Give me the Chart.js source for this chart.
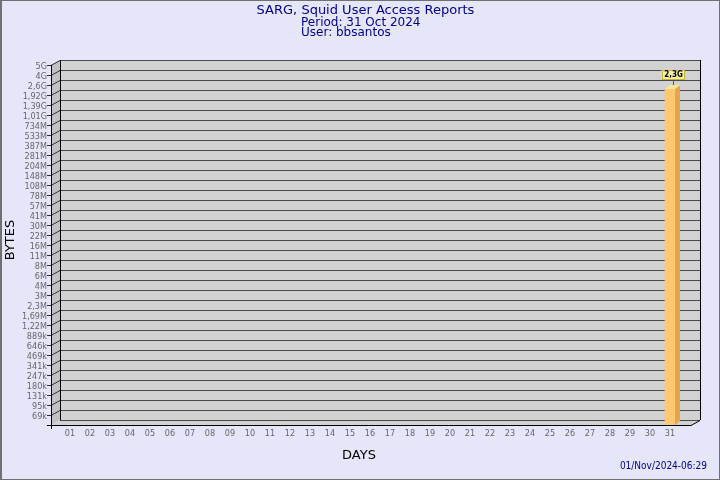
<!DOCTYPE html>
<html>
<head>
<meta charset="utf-8">
<script src="https://cdn.jsdelivr.net/npm/chart.js@4/dist/chart.umd.min.js"></script>
<style>
  html, body { margin: 0; padding: 0; background: #e6e6fa; }
  canvas { display: block; }
</style>
</head>
<body>
<canvas id="myChart" width="720" height="480"></canvas>
<script>
'use strict';

// y axis labels (bottom to top) and the byte values they stand for
var yLabels = ['69k', '95k', '131k', '180k', '247k', '341k', '469k', '646k', '889k',
  '1,22M', '1,69M', '2,3M', '3M', '4M', '6M', '8M', '11M', '16M', '22M', '30M', '41M',
  '57M', '78M', '108M', '148M', '204M', '281M', '387M', '533M', '734M',
  '1,01G', '1,39G', '1,92G', '2,6G', '4G', '5G'];
var yBytes = [69e3, 95e3, 131e3, 180e3, 247e3, 341e3, 469e3, 646e3, 889e3,
  1.22e6, 1.69e6, 2.3e6, 3e6, 4e6, 6e6, 8e6, 11e6, 16e6, 22e6, 30e6, 41e6,
  57e6, 78e6, 108e6, 148e6, 204e6, 281e6, 387e6, 533e6, 734e6,
  1.01e9, 1.39e9, 1.92e9, 2.6e9, 4e9, 5e9];

var days = ['01', '02', '03', '04', '05', '06', '07', '08', '09', '10', '11', '12', '13', '14', '15',
  '16', '17', '18', '19', '20', '21', '22', '23', '24', '25', '26', '27', '28', '29', '30', '31'];
var dayBytes = [null, null, null, null, null, null, null, null, null, null, null, null, null, null, null,
  null, null, null, null, null, null, null, null, null, null, null, null, null, null, null, 2.3e9];

var titleLine = 'SARG, Squid User Access Reports';
var periodLine = 'Period: 31 Oct 2024';
var userLine = 'User: bbsantos';
var stamp = '01/Nov/2024-06:29';

var FONT = '"DejaVu Sans", sans-serif';
var COND = '"DejaVu Sans Condensed", "DejaVu Sans", sans-serif';

// sarg y axis is a stepped log scale: map bytes onto label positions
function bytesToAxis(v) {
  if (v == null) return null;
  if (v <= yBytes[0]) return v / yBytes[0];
  for (var i = 0; i < yBytes.length - 1; i++) {
    if (v <= yBytes[i + 1]) {
      return i + 1 + Math.log(v / yBytes[i]) / Math.log(yBytes[i + 1] / yBytes[i]);
    }
  }
  return yBytes.length;
}

function fmtBytes(v) {
  if (v >= 1e9) return (v / 1e9).toFixed(1).replace('.', ',') + 'G';
  if (v >= 1e6) return (v / 1e6).toFixed(1).replace('.', ',') + 'M';
  return Math.round(v / 1e3) + 'k';
}

var DX = 9, DY = 5;

var sargFrame = {
  id: 'sargFrame',
  beforeDraw: function (chart) {
    var ctx = chart.ctx;
    var ys = chart.scales.y;
    var a = chart.chartArea;
    var L = a.left, R = a.right;
    var T = ys.getPixelForValue(ys.max), B = ys.getPixelForValue(0);
    ctx.save();
    ctx.fillStyle = '#e6e6fa';
    ctx.fillRect(0, 0, chart.width, chart.height);
    ctx.fillStyle = '#707070';
    ctx.fillRect(0, 0, 2, chart.height);
    ctx.fillRect(0, 0, chart.width, 1);
    ctx.fillRect(chart.width - 1, 0, 1, chart.height);
    ctx.fillRect(0, chart.height - 1, chart.width, 1);

    // titles
    ctx.fillStyle = '#00008b';
    ctx.textBaseline = 'middle';
    ctx.font = '13px ' + FONT;
    ctx.textAlign = 'center';
    ctx.fillText(titleLine, 365.5, 11);
    ctx.font = '12px ' + FONT;
    ctx.textAlign = 'left';
    ctx.fillText(periodLine, 301, 22.5);
    ctx.fillText(userLine, 301, 33);
    ctx.font = '10px ' + COND;
    ctx.textAlign = 'right';
    ctx.fillText(stamp, 707, 466.5);

    ctx.fillStyle = '#000';
    ctx.font = '13px ' + FONT;
    ctx.textAlign = 'center';
    ctx.fillText('DAYS', 359, 456);
    ctx.save();
    ctx.translate(11, 240);
    ctx.rotate(-Math.PI / 2);
    ctx.fillText('BYTES', 0, 0);
    ctx.restore();

    // back wall, side wall and floor
    ctx.fillStyle = '#d2d2d2';
    ctx.fillRect(L + DX, T - DY, R - L, B - T);
    ctx.beginPath();
    ctx.moveTo(L, B); ctx.lineTo(L + DX, B - DY); ctx.lineTo(R + DX, B - DY); ctx.lineTo(R, B);
    ctx.closePath(); ctx.fill();
    ctx.fillStyle = '#c2c2c2';
    ctx.beginPath();
    ctx.moveTo(L, T); ctx.lineTo(L + DX, T - DY); ctx.lineTo(L + DX, B - DY); ctx.lineTo(L, B);
    ctx.closePath(); ctx.fill();

    // grid lines on the back wall and tick connectors on the side wall
    ctx.lineWidth = 1;
    for (var i = 0; i <= ys.max; i++) {
      var py = Math.round(ys.getPixelForValue(i)) + 0.5;
      ctx.strokeStyle = '#4a4a4a';
      ctx.beginPath();
      ctx.moveTo(L + DX, py - DY); ctx.lineTo(R + DX, py - DY);
      ctx.stroke();
      if (i > 0) {
        ctx.strokeStyle = '#303030';
        ctx.beginPath();
        ctx.moveTo(L - 4, py); ctx.lineTo(L, py); ctx.lineTo(L + DX, py - DY);
        ctx.stroke();
      }
    }
    ctx.strokeStyle = '#000';
    ctx.beginPath();
    ctx.moveTo(L + DX + 0.5, T - DY); ctx.lineTo(L + DX + 0.5, B - DY);
    ctx.moveTo(R + DX + 0.5, T - DY); ctx.lineTo(R + DX + 0.5, B - DY);
    ctx.moveTo(L + 0.5, T); ctx.lineTo(L + 0.5, B + 4);
    ctx.moveTo(L - 4, B + 0.5); ctx.lineTo(R, B + 0.5); ctx.lineTo(R + DX, B - DY + 0.5);
    ctx.stroke();
    ctx.restore();
  },
  afterDatasetsDraw: function (chart) {
    var ctx = chart.ctx;
    var meta = chart.getDatasetMeta(0);
    ctx.save();
    meta.data.forEach(function (el, i) {
      if (dayBytes[i] == null) return;
      var p = el.getProps(['x', 'y', 'width', 'base'], true);
      var l = p.x - p.width / 2, r = p.x + p.width / 2;
      ctx.fillStyle = '#e3a64c';
      ctx.beginPath();
      ctx.moveTo(r, p.y); ctx.lineTo(r + 5, p.y - 4); ctx.lineTo(r + 5, p.base - 4); ctx.lineTo(r, p.base);
      ctx.closePath(); ctx.fill();
      ctx.fillStyle = '#ffe39c';
      ctx.beginPath();
      ctx.moveTo(l, p.y); ctx.lineTo(l + 5, p.y - 4); ctx.lineTo(r + 5, p.y - 4); ctx.lineTo(r, p.y);
      ctx.closePath(); ctx.fill();

      // value label
      var txt = fmtBytes(dayBytes[i]);
      ctx.font = 'bold 8px ' + COND;
      var w = Math.ceil(ctx.measureText(txt).width) + 4;
      var cx = Math.round(p.x + 2.5);
      var top = Math.round(p.y - 19);
      ctx.strokeStyle = '#555';
      ctx.beginPath();
      ctx.moveTo(cx + 0.5, top + 9); ctx.lineTo(cx + 0.5, p.y - 4);
      ctx.stroke();
      ctx.fillStyle = '#f6f2a0';
      ctx.fillRect(cx - w / 2, top, w, 9);
      ctx.strokeStyle = '#c8b432';
      ctx.strokeRect(Math.round(cx - w / 2) + 0.5, top + 0.5, w - 1, 9);
      ctx.fillStyle = '#000';
      ctx.textAlign = 'center';
      ctx.textBaseline = 'middle';
      ctx.fillText(txt, cx + 0.5, top + 5);
    });
    ctx.restore();
  }
};

var chartData = days.map(function (d, i) {
  return { x: i + 1, y: bytesToAxis(dayBytes[i]) };
});

var ctx = document.getElementById('myChart');
var myChart = new Chart(ctx, {
  type: 'bar',
  data: {
    datasets: [{
      data: chartData,
      backgroundColor: '#ffc870',
      borderWidth: 0,
      barThickness: 10
    }]
  },
  options: {
    responsive: false,
    animation: false,
    devicePixelRatio: 1,
    layout: { padding: { top: 65, right: 29, bottom: 35, left: 0 } },
    plugins: { legend: { display: false }, tooltip: { enabled: false } },
    scales: {
      x: {
        type: 'linear',
        offset: false,
        min: 0.05,
        max: 32.05,
        grid: { display: false, drawTicks: false, offset: false },
        border: { display: false },
        afterBuildTicks: function (scale) {
          scale.ticks = days.map(function (d, i) { return { value: i + 1 }; });
        },
        afterFit: function (scale) { scale.height = 20; },
        ticks: {
          autoSkip: false,
          maxRotation: 0,
          padding: 3,
          color: '#666',
          font: { family: COND, size: 9 },
          callback: function (v) { return days[v - 1]; }
        }
      },
      y: {
        type: 'linear',
        min: 0,
        max: yLabels.length,
        grid: { display: false, drawTicks: false },
        border: { display: false },
        afterBuildTicks: function (scale) {
          scale.ticks = yLabels.map(function (t, i) { return { value: i + 1 }; });
        },
        afterFit: function (scale) { scale.width = 51; },
        ticks: {
          autoSkip: false,
          padding: 4,
          labelOffset: 1.5,
          color: '#666',
          font: { family: COND, size: 9 },
          callback: function (v) { return yLabels[v - 1]; }
        }
      }
    }
  },
  plugins: [sargFrame]
});
</script>
</body>
</html>
